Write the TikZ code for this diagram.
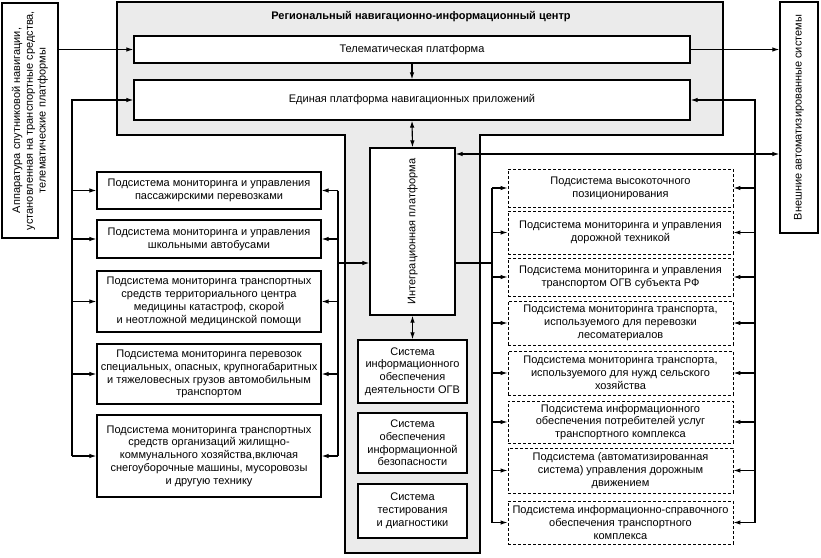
\documentclass[tikz,border=0pt]{standalone}
\usepackage{fontspec}
\setmainfont{Liberation Sans}
\usetikzlibrary{arrows.meta}
\begin{document}
\begin{tikzpicture}[x=1pt,y=-1pt,
  font=\fontsize{11}{12.8}\selectfont,
  box/.style={draw,line width=1.2pt,fill=white,align=center,inner sep=0.5pt},
  dbox/.style={draw,line width=0.9pt,dash pattern=on 3pt off 2pt,fill=white,align=center,inner sep=0.5pt},
  conn/.style={line width=1.1pt},
  arr/.style={line width=1.1pt,-{Latex[length=7pt,width=4.5pt]}},
  darr/.style={line width=1.1pt,{Latex[length=7pt,width=4.5pt]}-{Latex[length=7pt,width=4.5pt]}}]
\useasboundingbox (0,0) rectangle (821,557);
% centre region
\draw[line width=1.2pt,fill=black!8] (117,2) -- (723,2) -- (723,135) -- (480,135) -- (480,553) -- (345,553) -- (345,135) -- (117,135) -- cycle;
\node[font=\fontsize{11}{12.8}\selectfont\bfseries] (title) at (421,17) {Региональный навигационно-информационный центр};
% top platforms
\node[box,minimum width=556pt,minimum height=27pt] (tele) at (412,49.5) {Телематическая платформа};
\node[box,minimum width=556pt,minimum height=40pt] (uni) at (412,100) {Единая платформа навигационных приложений};
% external
\node[box,minimum width=56pt,minimum height=235pt] (extL) at (30,120.5) {};
\node[rotate=90,align=center] at (extL.center) {Аппаратура спутниковой навигации,\\установленная на транспортные средства,\\телематические платформы};
\node[box,minimum width=38pt,minimum height=231pt] (extR) at (799,117.5) {};
\node[rotate=90] at (extR.center) {Внешние автоматизированные системы};
% integration + systems
\node[box,minimum width=85pt,minimum height=167pt] (integ) at (412.5,231.5) {};
\node[rotate=90] at (integ.center) {Интеграционная платформа};
\node[box,minimum width=109pt,minimum height=63pt] (s1) at (412.5,371.5) {Система\\информационного\\обеспечения\\деятельности ОГВ};
\node[box,minimum width=109pt,minimum height=60pt] (s2) at (412.5,443) {Система\\обеспечения\\информационной\\безопасности};
\node[box,minimum width=109pt,minimum height=54pt] (s3) at (412.5,511) {Система\\тестирования\\и диагностики};
% left subsystems
\node[box,minimum width=224pt,minimum height=37pt] (l1) at (209,190.5) {Подсистема мониторинга и управления\\пассажирскими перевозками};
\node[box,minimum width=224pt,minimum height=38pt] (l2) at (209,239) {Подсистема мониторинга и управления\\школьными автобусами};
\node[box,minimum width=224pt,minimum height=61pt] (l3) at (209,301.5) {Подсистема мониторинга транспортных\\средств территориального центра\\медицины катастроф, скорой\\и неотложной медицинской помощи};
\node[box,minimum width=224pt,minimum height=60pt] (l4) at (209,374) {Подсистема мониторинга перевозок\\специальных, опасных, крупногабаритных\\и тяжеловесных грузов автомобильным\\транспортом};
\node[box,minimum width=224pt,minimum height=82pt] (l5) at (209,456) {Подсистема мониторинга транспортных\\средств организаций жилищно-\\коммунального хозяйства,включая\\снегоуборочные машины, мусоровозы\\и другую технику};
% right subsystems
\node[dbox,minimum width=225pt,minimum height=38pt] (r1) at (620.5,188) {Подсистема высокоточного\\позиционирования};
\node[dbox,minimum width=225pt,minimum height=43pt] (r2) at (620.5,232.5) {Подсистема мониторинга и управления\\дорожной техникой};
\node[dbox,minimum width=225pt,minimum height=38pt] (r3) at (620.5,277) {Подсистема мониторинга и управления\\транспортом ОГВ субъекта РФ};
\node[dbox,minimum width=225pt,minimum height=44pt] (r4) at (620.5,323) {Подсистема мониторинга транспорта,\\используемого для перевозки\\лесоматериалов};
\node[dbox,minimum width=225pt,minimum height=44pt] (r5) at (620.5,373) {Подсистема мониторинга транспорта,\\используемого для нужд сельского\\хозяйства};
\node[dbox,minimum width=225pt,minimum height=42pt] (r6) at (620.5,422) {Подсистема информационного\\обеспечения потребителей услуг\\транспортного комплекса};
\node[dbox,minimum width=225pt,minimum height=45pt] (r7) at (620.5,470.5) {Подсистема (автоматизированная\\система) управления дорожным\\движением};
\node[dbox,minimum width=225pt,minimum height=43pt] (r8) at (620.5,522.5) {Подсистема информационно-справочного\\обеспечения транспортного\\комплекса};
% bus coordinates
\coordinate (lb) at (72,0);
\coordinate (mb) at (338,0);
\coordinate (rb) at (492,0);
\coordinate (fb) at (755,0);
\coordinate (jy) at (0,263);
\coordinate (hy) at (0,154);
% connectors top
\draw[arr] (extL.east |- tele.west) -- (tele.west);
\draw[arr] (tele.east) -- (extR.west |- tele.east);
\draw[arr] (tele.south) -- (uni.north);
\draw[darr] (uni.south) -- (integ.north);
\draw[darr] (integ.south) -- (s1.north);
\draw[darr] (integ.east |- hy) -- (extR.west |- hy);
% left bus
\draw[arr] (lb |- l5.west) -- (lb |- uni.west) -- (uni.west);
\foreach \n in {l1,l2,l3,l4,l5} \draw[arr] (lb |- \n.west) -- (\n.west);
% middle-left bus
\draw[conn] (mb |- l1.east) -- (mb |- l5.east);
\foreach \n in {l1,l2,l3,l4,l5} \draw[arr] (mb |- \n.east) -- (\n.east);
\draw[arr] (mb |- jy) -- (integ.west |- jy);
% right bus
\draw[conn] (integ.east |- jy) -- (rb |- jy);
\draw[conn] (rb |- r1.west) -- (rb |- r8.west);
\foreach \n in {r1,r2,r3,r4,r5,r6,r7,r8} \draw[arr] (rb |- \n.west) -- (\n.west);
% far right bus
\draw[arr] (fb |- r8.east) -- (fb |- uni.east) -- (uni.east);
\foreach \n in {r1,r2,r3,r4,r5,r6,r7,r8} \draw[arr] (fb |- \n.east) -- (\n.east);
\end{tikzpicture}
\end{document}
